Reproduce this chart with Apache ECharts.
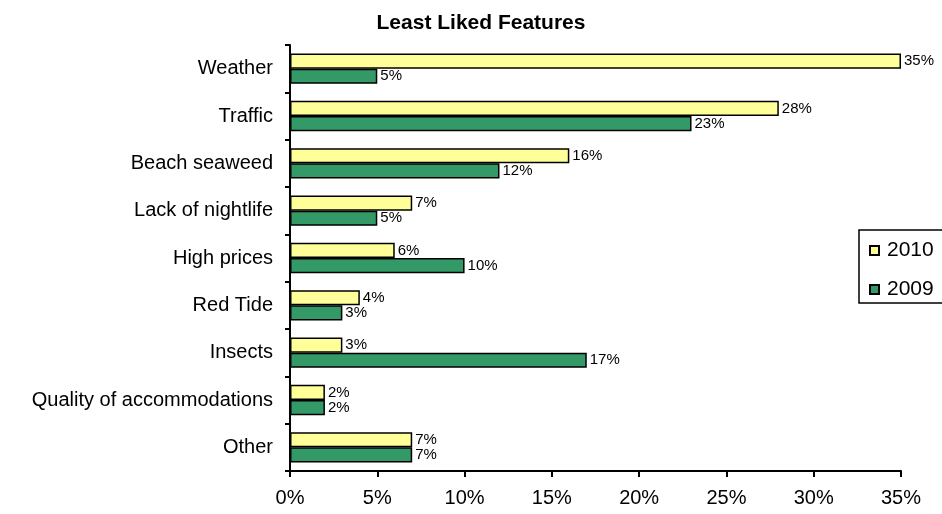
<!DOCTYPE html>
<html>
<head>
<meta charset="utf-8">
<script src="https://cdn.jsdelivr.net/npm/echarts@6/dist/echarts.min.js"></script>
<style>
  html, body { margin: 0; padding: 0; background: #fff; }
  #chart { width: 942px; height: 514px; }
</style>
</head>
<body>
<div id="chart"></div>
<script>
var categories = ['Weather', 'Traffic', 'Beach seaweed', 'Lack of nightlife', 'High prices', 'Red Tide', 'Insects', 'Quality of accommodations', 'Other'];
var values2010 = [35, 28, 16, 7, 6, 4, 3, 2, 7];
var values2009 = [5, 23, 12, 5, 10, 3, 17, 2, 7];
var xTicks = [0, 5, 10, 15, 20, 25, 30, 35];

var font = 'Liberation Sans, Arial, sans-serif';
var chart = echarts.init(document.getElementById('chart'));

function barLabel() {
  return {
    show: true,
    position: 'right',
    distance: 3,
    color: '#000',
    fontFamily: font,
    fontSize: 15,
    formatter: '{c}%'
  };
}

var option = {
  animation: false,
  title: {
    text: 'Least Liked Features',
    left: 476,
    textAlign: 'center',
    top: 8,
    textStyle: { fontFamily: font, fontSize: 21, fontWeight: 'bold', color: '#000' }
  },
  legend: {
    orient: 'vertical',
    left: 859,
    top: 230,
    padding: [10, 30, 3, 10],
    itemGap: 18,
    itemWidth: 9,
    itemHeight: 9,
    borderColor: '#000',
    borderWidth: 1.5,
    borderRadius: 0,
    icon: 'rect',
    textStyle: { fontFamily: font, fontSize: 21, color: '#000', padding: [0, 0, 0, 3] },
    data: ['2010', '2009']
  },
  grid: { left: 290, right: 41, top: 45, bottom: 43 },
  xAxis: {
    type: 'value',
    min: 0,
    max: xTicks[xTicks.length - 1],
    interval: 5,
    splitLine: { show: false },
    axisLine: { show: true, lineStyle: { color: '#000', width: 2 } },
    axisTick: { show: true, length: 6, lineStyle: { color: '#000', width: 2 } },
    axisLabel: {
      color: '#000', fontFamily: font, fontSize: 20, margin: 17,
      formatter: function (v) { return v + '%'; }
    }
  },
  yAxis: {
    type: 'category',
    inverse: true,
    data: categories,
    axisLine: { show: true, lineStyle: { color: '#000', width: 2 } },
    axisTick: { show: true, length: 5, alignWithLabel: false, lineStyle: { color: '#000', width: 2 } },
    axisLabel: { color: '#000', fontFamily: font, fontSize: 20, margin: 17 }
  },
  series: [
    {
      name: '2010',
      type: 'bar',
      data: values2010,
      barGap: '0%',
      barCategoryGap: '36%',
      itemStyle: { color: '#FFFF99', borderColor: '#000', borderWidth: 1.5 },
      label: barLabel()
    },
    {
      name: '2009',
      type: 'bar',
      data: values2009,
      barGap: '0%',
      barCategoryGap: '36%',
      itemStyle: { color: '#339966', borderColor: '#000', borderWidth: 1.5 },
      label: barLabel()
    }
  ]
};
chart.setOption(option);
</script>
</body>
</html>
